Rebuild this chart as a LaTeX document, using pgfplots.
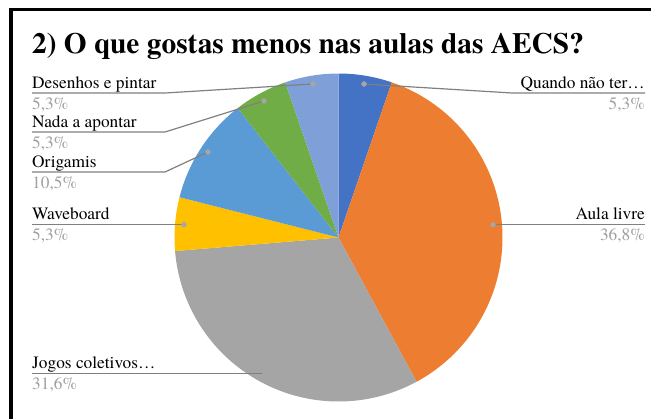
\documentclass[border=0pt]{standalone}
\usepackage{fontspec}
\setmainfont{TeX Gyre Termes}
\usepackage{pgfplots}
\pgfplotsset{compat=1.18}
\definecolor{cQ}{HTML}{4472C4}
\definecolor{cA}{HTML}{ED7D31}
\definecolor{cJ}{HTML}{A5A5A5}
\definecolor{cW}{HTML}{FFC000}
\definecolor{cO}{HTML}{5B9BD5}
\definecolor{cN}{HTML}{70AD47}
\definecolor{cD}{HTML}{7F9FD8}
\definecolor{linegray}{HTML}{808080}
\definecolor{dotgray}{HTML}{A6A6A6}
\definecolor{pctgray}{HTML}{A0A0A0}
\begin{document}
\begin{tikzpicture}
% answers (out of 19 respondents): Quando 1, Aula livre 7, Jogos 6, Waveboard 1, Origamis 2, Nada 1, Desenhos 1
\def\cx{338.5}\def\cy{237.5}\def\R{164}
\pgfmathsetmacro\aA{90}
\pgfmathsetmacro\aB{\aA-360*1/19}
\pgfmathsetmacro\aC{\aB-360*7/19}
\pgfmathsetmacro\aD{\aC-360*6/19}
\pgfmathsetmacro\aE{\aD-360*1/19}
\pgfmathsetmacro\aF{\aE-360*2/19}
\pgfmathsetmacro\aG{\aF-360*1/19}
\pgfmathsetmacro\aH{\aG-360*1/19}
\begin{axis}[scale only axis, width=654bp, height=419bp,
  xmin=0, xmax=654, ymin=0, ymax=419, y dir=reverse,
  hide axis, clip=false]
% frame
\draw[black, line width=3.4bp] (axis cs:11,480) -- (axis cs:11,9.5) -- (axis cs:651,9.5);
% slices
\addplot[fill=cQ, draw=none, domain=\aB:\aA, samples=40] ({\cx+\R*cos(x)},{\cy-\R*sin(x)}) -- (axis cs:\cx,\cy) -- cycle;
\addplot[fill=cA, draw=none, domain=\aC:\aB, samples=120] ({\cx+\R*cos(x)},{\cy-\R*sin(x)}) -- (axis cs:\cx,\cy) -- cycle;
\addplot[fill=cJ, draw=none, domain=\aD:\aC, samples=120] ({\cx+\R*cos(x)},{\cy-\R*sin(x)}) -- (axis cs:\cx,\cy) -- cycle;
\addplot[fill=cW, draw=none, domain=\aE:\aD, samples=40] ({\cx+\R*cos(x)},{\cy-\R*sin(x)}) -- (axis cs:\cx,\cy) -- cycle;
\addplot[fill=cO, draw=none, domain=\aF:\aE, samples=60] ({\cx+\R*cos(x)},{\cy-\R*sin(x)}) -- (axis cs:\cx,\cy) -- cycle;
\addplot[fill=cN, draw=none, domain=\aG:\aF, samples=40] ({\cx+\R*cos(x)},{\cy-\R*sin(x)}) -- (axis cs:\cx,\cy) -- cycle;
\addplot[fill=cD, draw=none, domain=\aH:\aG, samples=40] ({\cx+\R*cos(x)},{\cy-\R*sin(x)}) -- (axis cs:\cx,\cy) -- cycle;
% leader lines
\addplot[linegray, line width=1.2bp, mark=none] coordinates {(313,84) (165,93) (32,93)};
\addplot[linegray, line width=1.2bp, mark=none] coordinates {(264,101) (165,132) (32,132)};
\addplot[linegray, line width=1.2bp, mark=none] coordinates {(208,152) (165,172) (32,172)};
\addplot[linegray, line width=1.2bp, mark=none] coordinates {(184,224.7) (32,224.7)};
\addplot[linegray, line width=1.2bp, mark=none] coordinates {(264.8,373.8) (32,373.8)};
\addplot[linegray, line width=1.2bp, mark=none] coordinates {(364,84) (512,93) (645,93)};
\addplot[linegray, line width=1.2bp, mark=none] coordinates {(493,224.7) (645,224.7)};
% dots
\addplot[only marks, mark=*, mark size=2.4bp, color=dotgray] coordinates {(313,84) (264,101) (208,152) (184,224.7) (264.8,373.8) (364,84) (493,224.7)};
% title
\node[anchor=base west, inner sep=0pt, font=\fontsize{29.5}{32}\selectfont\bfseries] at (axis cs:32,53) {2) O que gostas menos nas aulas das AECS?};
% labels
\tikzset{nm/.style={inner sep=0pt, font=\fontsize{17.4}{20}\selectfont, text=black},
         pc/.style={inner sep=0pt, font=\fontsize{17.4}{20}\selectfont, text=pctgray}}
\node[nm, anchor=base west] at (axis cs:32,88) {Desenhos e pintar};
\node[pc, anchor=base west] at (axis cs:32,109) {5,3\%};
\node[nm, anchor=base west] at (axis cs:32,127) {Nada a apontar};
\node[pc, anchor=base west] at (axis cs:32,148) {5,3\%};
\node[nm, anchor=base west] at (axis cs:32,167) {Origamis};
\node[pc, anchor=base west] at (axis cs:32,188) {10,5\%};
\node[nm, anchor=base west] at (axis cs:32,219.5) {Waveboard};
\node[pc, anchor=base west] at (axis cs:32,240.5) {5,3\%};
\node[nm, anchor=base west] at (axis cs:32,368.8) {Jogos coletivos…};
\node[pc, anchor=base west] at (axis cs:32,389.8) {31,6\%};
\node[nm, anchor=base east] at (axis cs:645,88) {Quando não ter…};
\node[pc, anchor=base east] at (axis cs:645,109) {5,3\%};
\node[nm, anchor=base east] at (axis cs:645,219.5) {Aula livre};
\node[pc, anchor=base east] at (axis cs:645,240.5) {36,8\%};
\end{axis}
\pgfresetboundingbox
\useasboundingbox (current axis.south west) rectangle (current axis.north east);
\end{tikzpicture}
\end{document}
